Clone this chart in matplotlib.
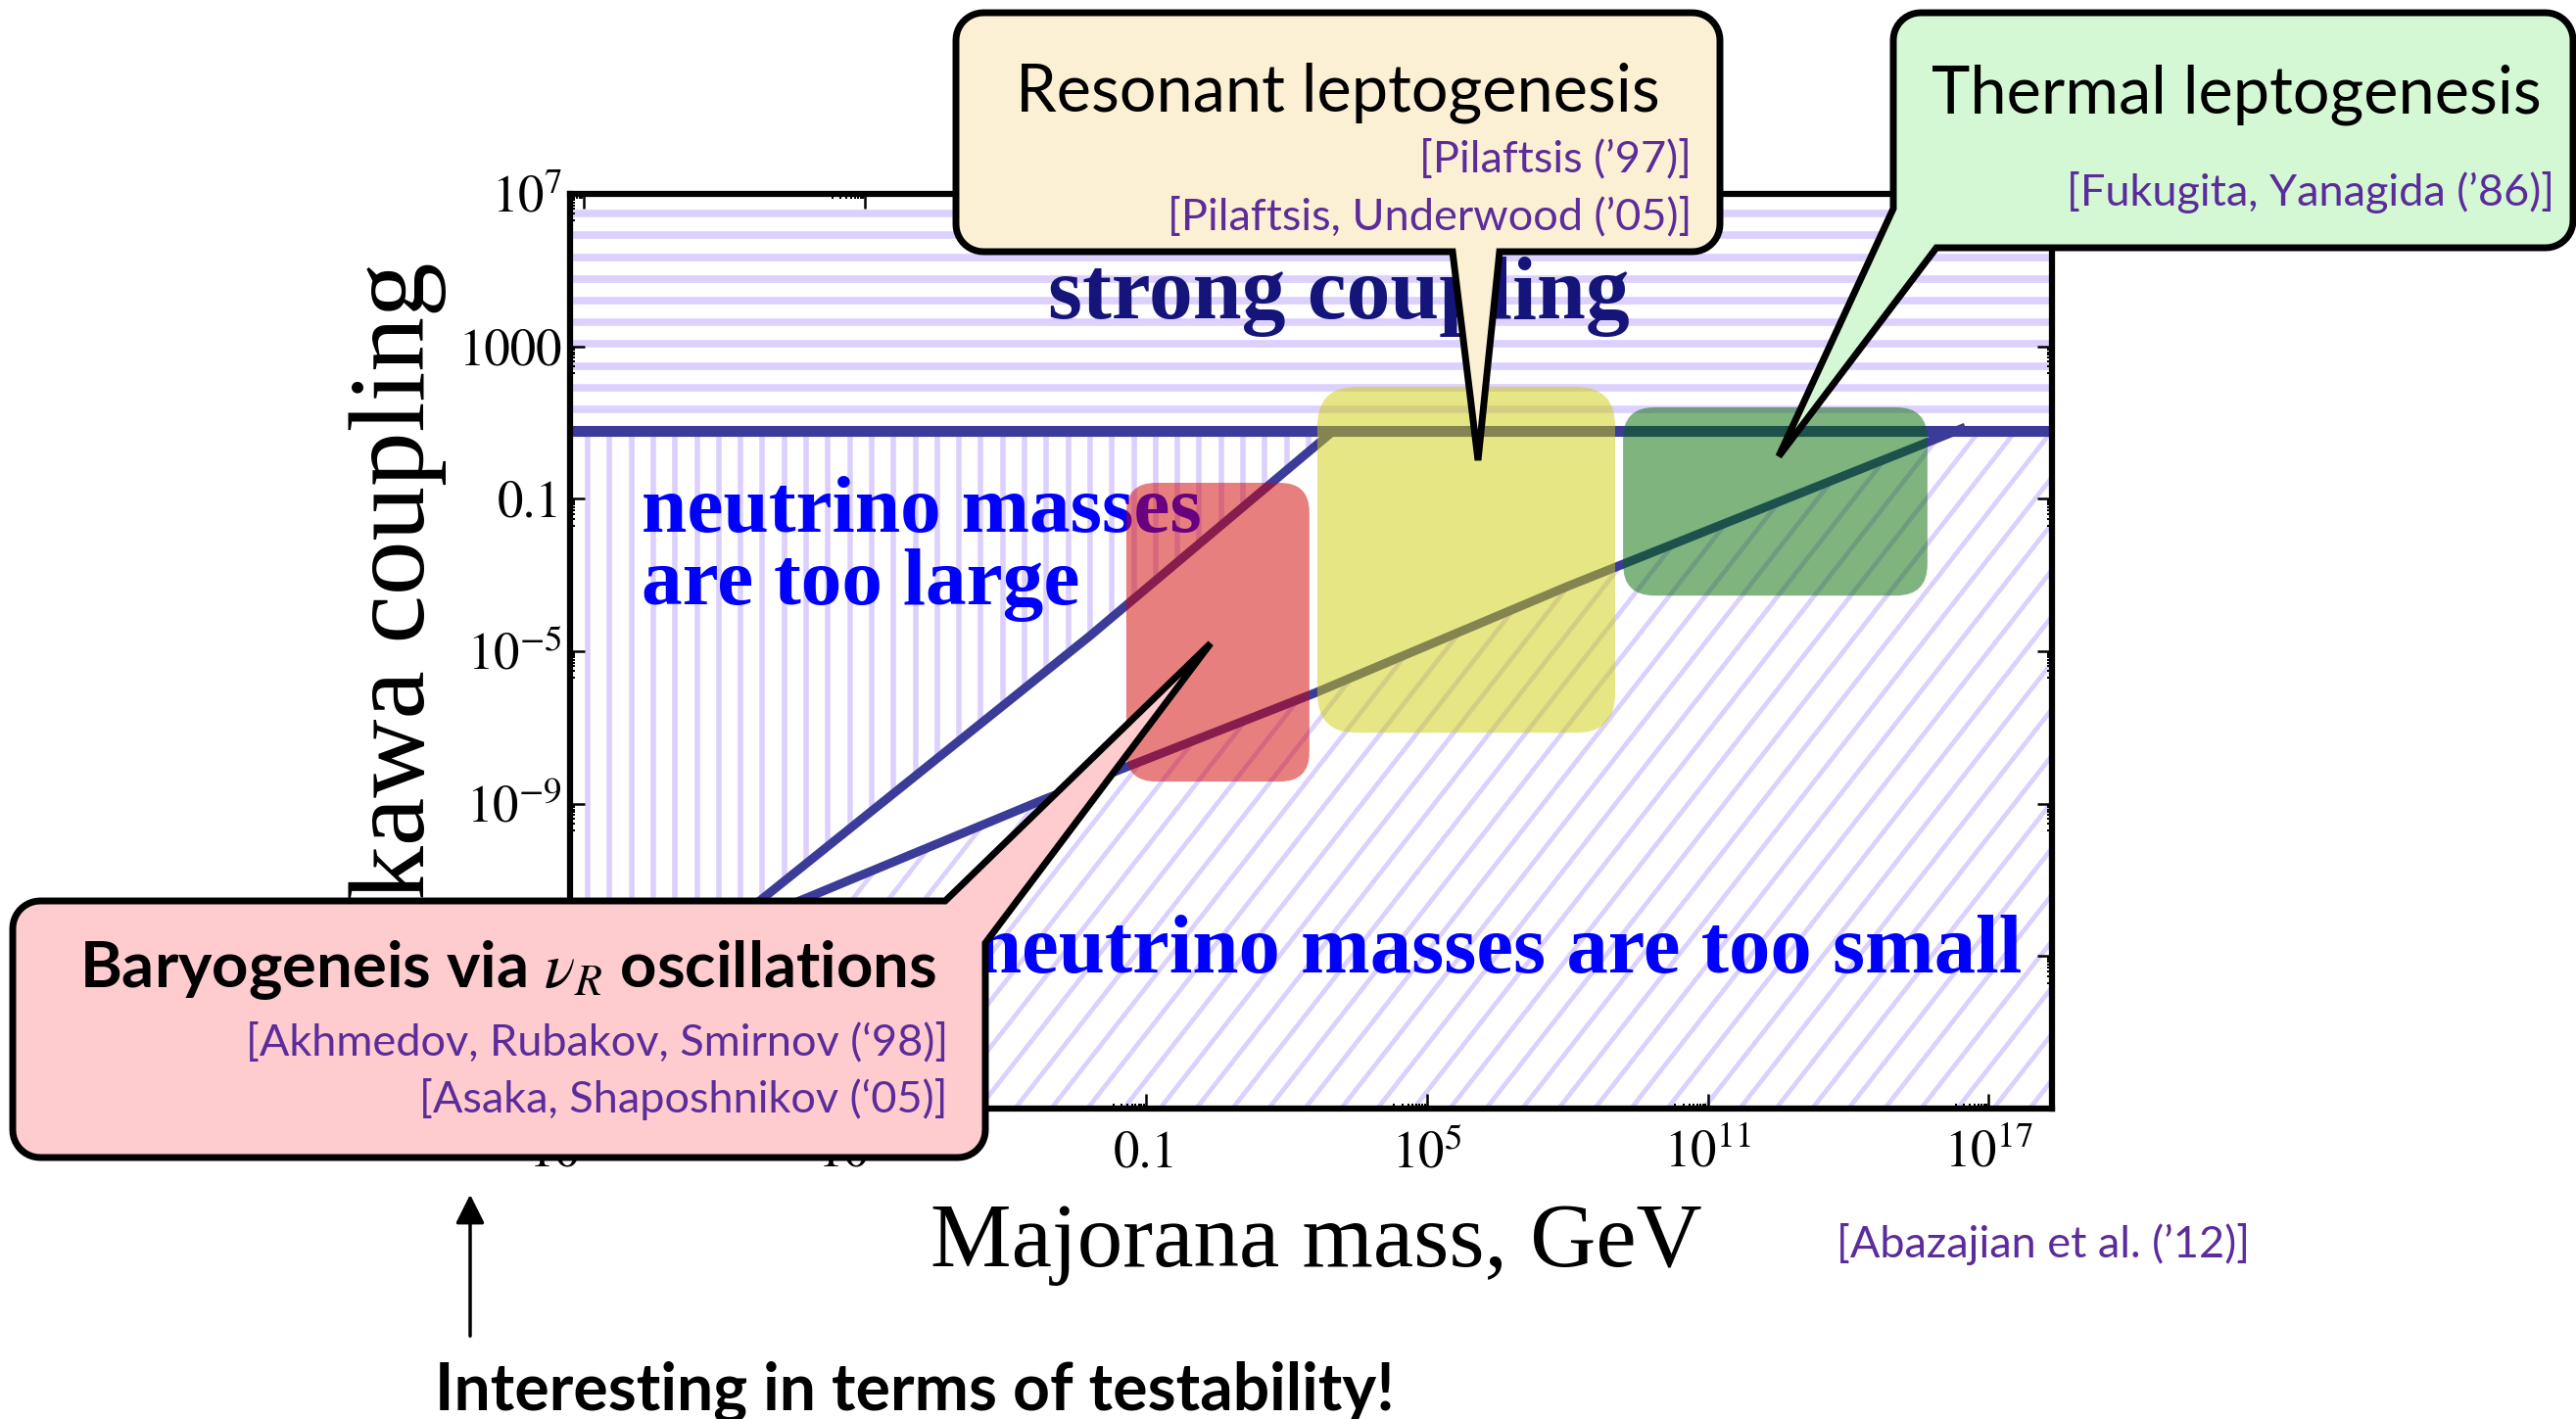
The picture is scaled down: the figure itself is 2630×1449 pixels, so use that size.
import numpy as np
import matplotlib
matplotlib.use('Agg')
import matplotlib.pyplot as plt
from matplotlib.patches import Polygon, FancyBboxPatch, PathPatch, FancyArrowPatch
from matplotlib.path import Path
from matplotlib.collections import LineCollection
from matplotlib.transforms import IdentityTransform
from matplotlib.ticker import NullFormatter
from matplotlib.colors import to_rgba

plt.rcParams['font.family'] = 'STIXGeneral'
plt.rcParams['mathtext.fontset'] = 'stix'

W, H = 2630, 1449

# ---- data (log10 values) ----
x_major_exp = [-13, -7, -1, 5, 11, 17]
x_tick_labels = [r'$10^{-13}$', r'$10^{-7}$', '0.1', r'$10^{5}$', r'$10^{11}$', r'$10^{17}$']
y_major_exp = [-17, -13, -9, -5, -1, 3, 7]
y_tick_labels = [r'$10^{-17}$', r'$10^{-13}$', r'$10^{-9}$', r'$10^{-5}$', '0.1', '1000', r'$10^{7}$']

x_range_exp = [-13.3, 18.35]
y_range_exp = [-17, 7]
strong_exp = 0.78          # perturbativity bound on the Yukawa coupling

# upper seesaw line (neutrino masses too large above it)
upper_M = [-13.3, -9.9, -9.3, -2.2, 3.0]
upper_F = [-15.7, -12.3, -11.6, -4.6, 0.78]
# lower seesaw line (neutrino masses too small below it)
lower_M = [-9.9, -8.3, -3.2, 2.6, 8.0, 16.5]
lower_F = [-12.3, -11.5, -8.9, -6.1, -3.3, 0.88]

# mechanism regions
region_names = ['nuR oscillations', 'Resonant', 'Thermal']
region_M = [(-1.42, 2.49), (2.66, 9.02), (9.19, 15.69)]
region_F = [(-8.42, -0.58), (-7.14, 1.94), (-3.54, 1.40)]
region_colors = ['#d20000', '#cece0a', '#006a00']
region_round = [30, 40, 32]

hatch_color = '#dcd0ff'
line_color = '#3b3b9a'

fig = plt.figure(figsize=(W / 100, H / 100), dpi=100)
ax = fig.add_axes([582 / W, 1 - 1132 / H, (2095 - 582) / W, (1132 - 198) / H])
ax.set_xscale('log')
ax.set_yscale('log')
xmin, xmax = 10 ** x_range_exp[0], 10 ** x_range_exp[1]
ymin, ymax = 10 ** y_range_exp[0], 10 ** y_range_exp[1]
Fm = 10 ** strong_exp
ax.set_xlim(xmin, xmax)
ax.set_ylim(ymin, ymax)

# ---- hatched regions ----
um = 10 ** np.array(upper_M)
uf = 10 ** np.array(upper_F)
lm = 10 ** np.array(lower_M)
lf = 10 ** np.array(lower_F)

strong_poly = [(xmin, Fm), (xmax, Fm), (xmax, ymax), (xmin, ymax)]
large_poly = [(xmin, Fm)] + list(zip(um[::-1], uf[::-1]))
small_poly = ([(xmin, ymin)] + list(zip(um[:2], uf[:2])) + list(zip(lm[1:-1], lf[1:-1]))
              + [(lm[-1], Fm), (xmax, Fm), (xmax, ymin)])

bx0, by0, bx1, by1 = ax.bbox.extents


def hatch(poly, segs, lw):
    p = Polygon(poly, closed=True, fc='none', ec='none')
    ax.add_patch(p)
    lc = LineCollection(segs, colors=hatch_color, linewidths=lw,
                        transform=IdentityTransform(), zorder=1)
    ax.add_collection(lc, autolim=False)
    lc.set_clip_path(p)


ys = H - np.arange(196, 460, 22.2)
hatch(strong_poly, [[(bx0, y), (bx1, y)] for y in ys], 5.5)

xs = np.arange(1113 - 24 * 22.3, 2100, 22.3)
hatch(large_poly, [[(x, by0), (x, by1)] for x in xs], 4.0)

ang = np.radians(52)
run = (by1 - by0) / np.tan(ang)
xs = np.arange(bx0 - run, bx1 + 40, 37)
hatch(small_poly, [[(x, by0), (x + run, by1)] for x in xs], 3.4)

# ---- boundary lines ----
ax.axhline(Fm, color=line_color, lw=8, zorder=2, solid_capstyle='butt')
ax.plot(um, uf, color=line_color, lw=6.5, zorder=2, solid_capstyle='butt')
ax.plot(lm, lf, color=line_color, lw=6.5, zorder=2, solid_capstyle='butt')

# ---- region labels ----
tkw = dict(transform=fig.transFigure, family='Liberation Serif', weight='bold', zorder=3)
ax.text(1367 / W, 1 - 325 / H, 'strong coupling', ha='center', va='baseline',
        fontsize=64.5, color='#14147a', **tkw)
ax.text(655 / W, 1 - 543 / H, 'neutrino masses', ha='left', va='baseline',
        fontsize=60, color='#0000ff', **tkw)
ax.text(655 / W, 1 - 617 / H, 'are too large', ha='left', va='baseline',
        fontsize=60, color='#0000ff', **tkw)
ax.text(2064 / W, 1 - 993 / H, 'neutrino masses are too small', ha='right', va='baseline',
        fontsize=61, color='#0000ff', **tkw)

# ---- mechanism boxes ----
for (m0, m1), (f0, f1), col, r in zip(region_M, region_F, region_colors, region_round):
    (px0, py0), (px1, py1) = ax.transData.transform([(10 ** m0, 10 ** f0), (10 ** m1, 10 ** f1)])
    box = FancyBboxPatch((px0, py0), px1 - px0, py1 - py0,
                         boxstyle=f'round,pad=0,rounding_size={r}',
                         transform=IdentityTransform(), fc=to_rgba(col, 0.5), ec='none', zorder=4)
    ax.add_patch(box)

# ---- axes styling ----
ax.set_xticks([10.0 ** k for k in x_major_exp], x_tick_labels)
ax.set_yticks([10.0 ** k for k in y_major_exp], y_tick_labels)
ax.set_xticks([j * 10.0 ** (k - 1) for k in x_major_exp for j in range(2, 10)], minor=True)
ax.set_yticks([j * 10.0 ** (k - 1) for k in y_major_exp for j in range(2, 10)
               if j * 10.0 ** (k - 1) > ymin], minor=True)
ax.xaxis.set_minor_formatter(NullFormatter())
ax.yaxis.set_minor_formatter(NullFormatter())
ax.set_xlim(xmin, xmax)
ax.set_ylim(ymin, ymax)
ax.tick_params(which='both', direction='in', top=True, right=True, labelsize=38, colors='black')
ax.tick_params(which='major', length=11, width=1.8)
ax.tick_params(which='minor', length=3.5, width=1.4)
ax.tick_params(axis='x', pad=16)
ax.tick_params(axis='y', pad=6)
for sp in ax.spines.values():
    sp.set_linewidth(4.5)
    sp.set_zorder(6)

fig.text(1344 / W, 1 - 1293 / H, 'Majorana mass, GeV', ha='center', va='baseline',
         fontsize=67, family='Liberation Serif')
fig.text(406 / W, 1 - 655 / H, 'Yukawa coupling', ha='center', va='center', rotation=90,
         fontsize=80, family='Liberation Serif')


# ---- speech bubbles ----
def bubble(x0, y0, x1, y1, r, tail, edge, skip=None):
    def arc(cx, cy, a0, a1):
        t = np.radians(np.linspace(a0, a1, 12))
        return list(zip(cx + r * np.cos(t), cy + r * np.sin(t)))
    corners = [('tl', arc(x0 + r, y0 + r, 180, 270)), ('tr', arc(x1 - r, y0 + r, 270, 360)),
               ('br', arc(x1 - r, y1 - r, 0, 90)), ('bl', arc(x0 + r, y1 - r, 90, 180))]
    pts = []
    for name, c in corners:
        if name != skip:
            pts += c
        if (edge == 'top' and name == 'tl') or (edge == 'bottom' and name == 'br'):
            pts += tail
    verts = [(x, H - y) for x, y in pts] + [(0, 0)]
    codes = [Path.MOVETO] + [Path.LINETO] * (len(pts) - 1) + [Path.CLOSEPOLY]
    return Path(verts, codes)


bubbles = [
    (bubble(976, 13, 1756, 257, 28, [(1531, 257), (1509, 470), (1483, 257)], 'bottom'), '#fbefd4'),
    (bubble(1933, 13, 2627, 253, 28, [(1977, 253), (1816, 466), (1933, 213)], 'bottom', 'bl'), '#d4f7d4'),
    (bubble(13, 920, 1006, 1182, 28, [(965, 920), (1236, 657), (1006, 963)], 'top', 'tr'), '#fecbce'),
]
for path, fc in bubbles:
    fig.add_artist(PathPatch(path, fc=fc, ec='black', lw=5, joinstyle='miter',
                             transform=IdentityTransform(), zorder=10))

ref_color = '#5b2c9a'
skw = dict(family='Lato', zorder=11)
fig.text(1366 / W, 1 - 113 / H, 'Resonant leptogenesis', ha='center', va='baseline', fontsize=48, **skw)
fig.text(1727 / W, 1 - 163 / H, "[Pilaftsis (\u201997)]", ha='right', va='center',
         fontsize=32.5, color=ref_color, **skw)
fig.text(1727 / W, 1 - 222 / H, "[Pilaftsis, Underwood (\u201905)]", ha='right', va='center',
         fontsize=32.5, color=ref_color, **skw)

fig.text(2283 / W, 1 - 115 / H, 'Thermal leptogenesis', ha='center', va='baseline', fontsize=48, **skw)
fig.text(2608 / W, 1 - 197 / H, "[Fukugita, Yanagida (\u201986)]", ha='right', va='center',
         fontsize=32.5, color=ref_color, **skw)

fig.text(956 / W, 1 - 1008 / H, r'Baryogeneis via $\nu_R$ oscillations', ha='right', va='baseline',
         fontsize=47, weight='bold', **skw)
fig.text(968 / W, 1 - 1065 / H, "[Akhmedov, Rubakov, Smirnov (\u201898)]", ha='right', va='center',
         fontsize=32.5, color=ref_color, **skw)
fig.text(968 / W, 1 - 1122 / H, "[Asaka, Shaposhnikov (\u201805)]", ha='right', va='center',
         fontsize=32.5, color=ref_color, **skw)

fig.text(2297 / W, 1 - 1271 / H, "[Abazajian et al. (\u201912)]", ha='right', va='center',
         fontsize=32.5, color=ref_color, **skw)

fig.add_artist(FancyArrowPatch((480, H - 1367), (480, H - 1217), transform=IdentityTransform(),
                               arrowstyle='-|>,head_length=0.9,head_width=0.45',
                               mutation_scale=20, lw=2.5, color='black', zorder=11))
fig.text(934 / W, 1 - 1440 / H, 'Interesting in terms of testability!', ha='center', va='baseline',
         fontsize=47.5, weight='bold', **skw)

fig.savefig('out.png', dpi=100)
